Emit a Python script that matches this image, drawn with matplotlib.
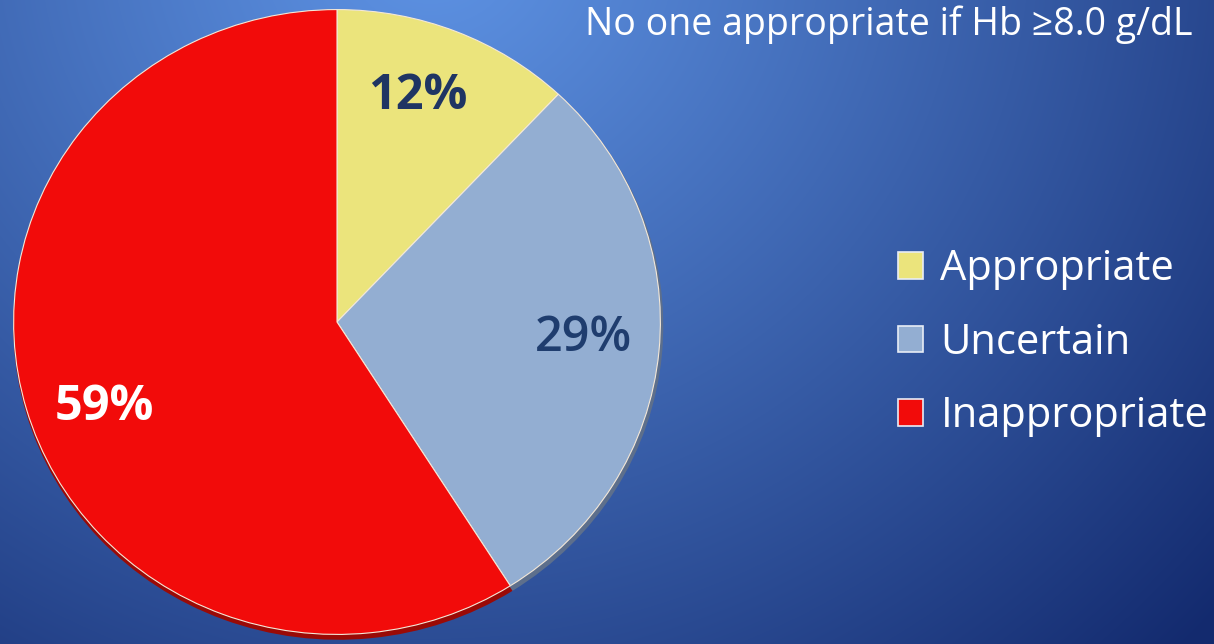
import numpy as np
import matplotlib
matplotlib.use("Agg")
import matplotlib.pyplot as plt
from matplotlib.colors import to_rgb

# Chart data
categories = ["Appropriate", "Uncertain", "Inappropriate"]
shares = [12, 29, 59]
slice_colors = ["#ebe47c", "#93aed2", "#f20b0a"]
label_colors = ["#1f3563", "#1f3d6e", "#ffffff"]
title = "No one appropriate if Hb \u22658.0 g/dL"

W, H = 1214, 644
fig = plt.figure(figsize=(W / 100, H / 100), dpi=100)

# Blue slide background: radial fade from a light spot near the top
bg = fig.add_axes([0, 0, 1, 1])
yy, xx = np.mgrid[0:H, 0:W]
d = np.hypot(xx - 430, (yy + 60) * 1.05)
t = np.clip(d / 1060, 0, 1) ** 1.1
light = np.array(to_rgb("#5e93e4"))
dark = np.array(to_rgb("#132a6e"))
img = light[None, None, :] * (1 - t[..., None]) + dark[None, None, :] * t[..., None]
bg.imshow(img, extent=[0, W, H, 0], aspect="auto")
bg.set_xlim(0, W)
bg.set_ylim(H, 0)
bg.axis("off")

# Pie axes, sized in pixels so the disc is slightly flattened
cx, cy, rx, ry = 337, 322, 325, 314
ax = fig.add_axes([(cx - rx) / W, (H - cy - ry) / H, 2 * rx / W, 2 * ry / H])

# darker rim underneath for the bevelled edge
rim_colors = ["#8f8a4a", "#5d6f8c", "#9a0a06"]
ax.pie(shares, colors=rim_colors, startangle=90, counterclock=False,
       radius=1.0, center=(0.004, -0.012),
       wedgeprops=dict(linewidth=0))

wedges, _ = ax.pie(shares, colors=slice_colors, startangle=90, counterclock=False,
                   radius=0.995,
                   wedgeprops=dict(edgecolor="#f4e8d8", linewidth=0.8))
ax.set_aspect("auto")
ax.set_xlim(-1, 1)
ax.set_ylim(-1, 1)
ax.axis("off")

# percentage labels placed near each slice's mid-angle
label_radius = [0.76, 0.76, 0.765]
label_turn = [2.6, 1.5, 4.6]  # degrees nudged counter-clockwise
label_weights = ["bold", "semibold", "bold"]
start = 90.0
for i, v in enumerate(shares):
    mid = np.deg2rad(start - 360 * v / 100 / 2 + label_turn[i])
    start -= 360 * v / 100
    x = label_radius[i] * np.cos(mid)
    y = label_radius[i] * np.sin(mid)
    ax.text(x, y, f"{v}%", ha="center", va="center", fontsize=35,
            fontweight=label_weights[i], color=label_colors[i],
            family=["Open Sans", "DejaVu Sans"])

# slide title
fig.text(585 / W, 1 - 35 / H, title, fontsize=27, color="white",
         family=["Open Sans", "DejaVu Sans"], va="baseline", ha="left")

leg = fig.legend(wedges, categories, loc="upper left",
                 bbox_to_anchor=(898 / W, 1 - 248 / H),
                 frameon=False, labelcolor="white",
                 handlelength=0.6, handleheight=0.6, handletextpad=0.42,
                 labelspacing=0.76, borderpad=0, borderaxespad=0,
                 prop=dict(family=["Open Sans", "DejaVu Sans"], size=30))
for h in leg.legend_handles:
    h.set_edgecolor("#e8edf6")
    h.set_linewidth(1.2)

fig.savefig("out.png", dpi=100)
